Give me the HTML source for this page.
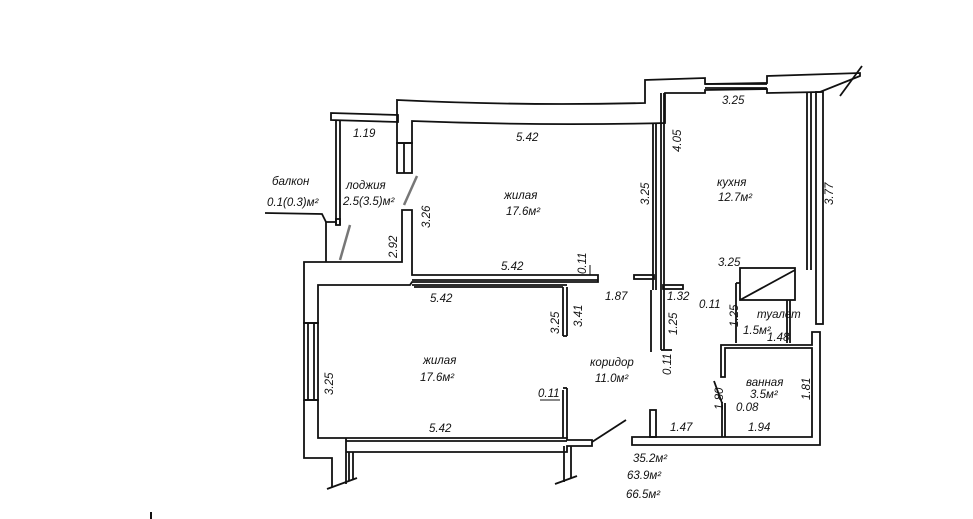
<!DOCTYPE html>
<html><head><meta charset="utf-8"><style>
html,body{margin:0;padding:0;background:#fff;width:973px;height:519px;overflow:hidden}
svg{display:block}
text{font-family:"Liberation Sans",sans-serif;font-style:italic;font-size:11.5px;fill:#111}
</style></head><body>
<svg width="973" height="519" viewBox="0 0 973 519" xmlns="http://www.w3.org/2000/svg">
<g fill="none" stroke="#111" stroke-width="1.8">
<path d="M331,113 L398,115 L398,122 L331,120 Z"/>
<line x1="336" y1="120" x2="336" y2="225"/><line x1="340" y1="120" x2="340" y2="225"/>
<rect x="336" y="219" width="4" height="6"/>
<path d="M397,100 Q520,106 645,103 L645,80 L705,78 L705,84 L767,83 L767,76 L860,73 L860,76 L820,92 L767,93 L767,89 L705,90 L705,93 L665,93 L665,123 Q540,126 412,121 L412,143 L397,143 Z"/>
<line x1="705" y1="84" x2="767" y2="84"/><line x1="705" y1="88" x2="767" y2="88"/>
<rect x="397" y="143" width="15" height="30"/><line x1="404" y1="143" x2="404" y2="173"/>
<line x1="840" y1="96" x2="862" y2="66"/>
<line x1="653" y1="123" x2="653" y2="290"/><line x1="656" y1="123" x2="656" y2="290"/>
<line x1="661" y1="93" x2="661" y2="350"/><line x1="664" y1="93" x2="664" y2="350"/>
<line x1="807" y1="92" x2="807" y2="270"/><line x1="811" y1="92" x2="811" y2="270"/>
<rect x="816" y="92" width="7" height="232"/>
<path d="M402,210 L412,210 L412,275 L598,275 L598,282 L412,282 L410,285 L318,285 L318,323 L304,323 L304,262 L402,262 Z"/>
<line x1="412" y1="280" x2="598" y2="280"/>
<line x1="412" y1="285" x2="567" y2="285"/><line x1="414" y1="287" x2="563" y2="287"/>
<line x1="563" y1="287" x2="563" y2="336"/><line x1="567" y1="287" x2="567" y2="336"/><line x1="563" y1="336" x2="567" y2="336"/>
<line x1="563" y1="390" x2="563" y2="438"/><line x1="567" y1="388" x2="567" y2="438"/><line x1="563" y1="388" x2="567" y2="388"/>
<rect x="304" y="323" width="14" height="77"/><line x1="308" y1="323" x2="308" y2="400"/><line x1="314" y1="323" x2="314" y2="400"/>
<path d="M304,400 L318,400 L318,438 L567,438 L567,440 L592,440 L592,446 L567,446 L567,452 L346,452 L346,484 M346,452 L346,438"/>
<path d="M304,400 L304,458 L332,458 L332,487"/>
<line x1="346" y1="441" x2="567" y2="441"/>
<line x1="349" y1="452" x2="349" y2="481"/><line x1="353" y1="452" x2="353" y2="479"/>
<line x1="564" y1="446" x2="564" y2="482"/><line x1="571" y1="446" x2="571" y2="478"/>
<line x1="327" y1="489" x2="357" y2="478"/><line x1="555" y1="484" x2="577" y2="476"/>
<line x1="592" y1="442" x2="626" y2="420"/>
<rect x="634" y="275" width="20" height="4"/>
<rect x="663" y="285" width="20" height="4"/>
<line x1="651" y1="290" x2="651" y2="352"/><line x1="661" y1="350" x2="672" y2="350"/>
<rect x="740" y="268" width="55" height="32"/><line x1="740" y1="300" x2="795" y2="270"/>
<path d="M736,283 L740,283 M736,283 L736,343"/>
<path d="M721,345 L812,345 L812,332 L820,332 L820,445 L632,445 L632,437 L812,437 L812,348 L725,348 L725,377 L721,377 Z"/>
<line x1="722" y1="403" x2="722" y2="437"/><line x1="725" y1="403" x2="725" y2="437"/>
<rect x="650" y="410" width="6" height="27"/>
<line x1="714" y1="381" x2="722" y2="403"/>
<line x1="790" y1="300" x2="790" y2="343"/><line x1="787" y1="300" x2="787" y2="343"/>
<path d="M336,222 L326,222 L322,214 L265,213"/><line x1="326" y1="222" x2="326" y2="262"/>
<line x1="350" y1="225" x2="340" y2="260" stroke="#777" stroke-width="2.5"/>
<line x1="417" y1="176" x2="404" y2="205" stroke="#777" stroke-width="2.5"/>
<line x1="590" y1="265" x2="590" y2="275" stroke-width="1"/>
<line x1="540" y1="400" x2="560" y2="400" stroke-width="1"/>
</g>
<text x="353" y="137">1.19</text>
<text x="516" y="141">5.42</text>
<text x="722" y="104">3.25</text>
<text x="272" y="185">балкон</text>
<text x="267" y="206">0.1(0.3)м²</text>
<text x="346" y="189">лоджия</text>
<text x="343" y="205">2.5(3.5)м²</text>
<text x="504" y="199">жилая</text>
<text x="506" y="215">17.6м²</text>
<text x="717" y="186">кухня</text>
<text x="718" y="201">12.7м²</text>
<text x="501" y="270">5.42</text>
<text x="430" y="302">5.42</text>
<text x="605" y="300">1.87</text>
<text x="667" y="300">1.32</text>
<text x="718" y="266">3.25</text>
<text x="699" y="308">0.11</text>
<text x="757" y="318">туалет</text>
<text x="743" y="334">1.5м²</text>
<text x="767" y="341">1.48</text>
<text x="423" y="364">жилая</text>
<text x="420" y="381">17.6м²</text>
<text x="590" y="366">коридор</text>
<text x="595" y="382">11.0м²</text>
<text x="538" y="397">0.11</text>
<text x="746" y="386">ванная</text>
<text x="750" y="398">3.5м²</text>
<text x="736" y="411">0.08</text>
<text x="429" y="432">5.42</text>
<text x="670" y="431">1.47</text>
<text x="748" y="431">1.94</text>
<text x="633" y="462">35.2м²</text>
<text x="627" y="479">63.9м²</text>
<text x="626" y="498">66.5м²</text>
<g transform="rotate(-90)">
<text x="-228" y="430">3.26</text>
<text x="-258" y="397">2.92</text>
<text x="-205" y="649">3.25</text>
<text x="-152" y="681">4.05</text>
<text x="-205" y="833">3.77</text>
<text x="-274" y="586">0.11</text>
<text x="-334" y="559">3.25</text>
<text x="-327" y="582">3.41</text>
<text x="-335" y="677">1.25</text>
<text x="-375" y="671">0.11</text>
<text x="-327" y="738">1.25</text>
<text x="-395" y="333">3.25</text>
<text x="-410" y="723">1.80</text>
<text x="-400" y="810">1.81</text>
</g>
<rect x="150" y="512" width="2" height="7" fill="#111"/>
</svg>
</body></html>
